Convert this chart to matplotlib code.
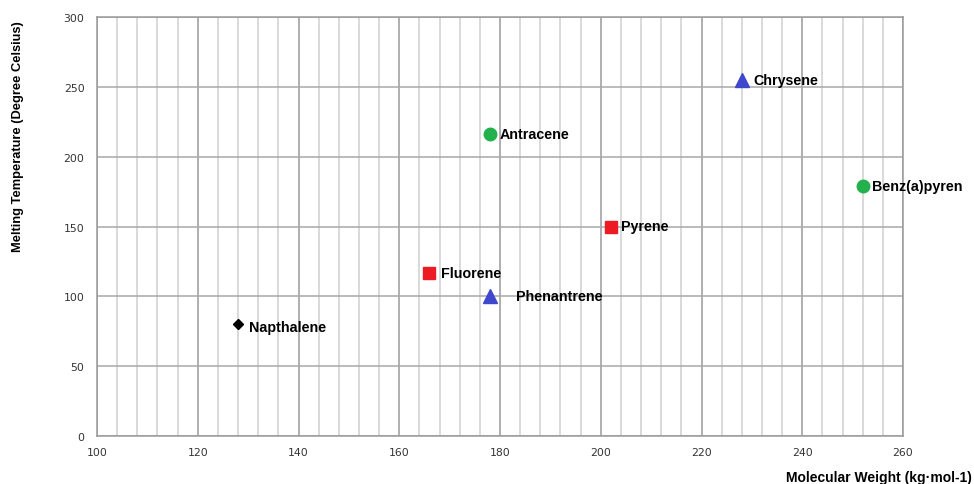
import matplotlib.pyplot as plt
from matplotlib.ticker import MultipleLocator

# compounds: molecular weight vs melting temperature
names = ["Napthalene", "Fluorene", "Phenantrene", "Antracene",
         "Pyrene", "Chrysene", "Benz(a)pyren"]
weights = [128, 166, 178, 178, 202, 228, 252]
melting = [80, 117, 100, 216, 150, 255, 179]
markers = ["D", "s", "^", "o", "s", "^", "o"]
colors = ["#000000", "#ed1c24", "#3f48cc", "#22b14c",
          "#ed1c24", "#3f48cc", "#22b14c"]
sizes = [5, 8, 10, 9, 8, 10, 9]
label_dx = [8, 8, 19, 7, 7, 8, 7]
label_dy = [-2, 0, 0, 0, 0, 0, 0]

fig = plt.figure(figsize=(9.74, 4.85), dpi=100)
ax = fig.add_axes([97 / 974, 1 - 437 / 485, 806 / 974, 419 / 485])

ax.set_xlim(100, 260)
ax.set_ylim(0, 300)
ax.xaxis.set_major_locator(MultipleLocator(20))
ax.xaxis.set_minor_locator(MultipleLocator(4))
ax.yaxis.set_major_locator(MultipleLocator(50))

ax.grid(axis="x", which="major", color="#9a9a9a", linewidth=1.1)
ax.grid(axis="x", which="minor", color="#d0d0d0", linewidth=1.1)
ax.grid(axis="y", which="major", color="#a8a8a8", linewidth=1.1)
ax.set_axisbelow(True)
for sp in ax.spines.values():
    sp.set_color("#9a9a9a")
    sp.set_linewidth(1.1)

ax.tick_params(which="both", length=0, labelsize=7.8, labelcolor="#333333")
ax.tick_params(axis="x", pad=8)
ax.tick_params(axis="y", pad=9)

for i in range(len(names)):
    ax.plot(weights[i], melting[i], marker=markers[i], color=colors[i],
            markersize=sizes[i], linestyle="none")
    ax.annotate(names[i], (weights[i], melting[i]),
                xytext=(label_dx[i], label_dy[i]), textcoords="offset points",
                ha="left", va="center", fontsize=10.3, fontweight="bold",
                family="Liberation Sans")

fig.text(18 / 974, 1 - 137 / 485, "Melting Temperature (Degree Celsius)",
         rotation=90, ha="center", va="center", fontsize=9.3,
         fontweight="bold", family="Liberation Sans")
fig.text(972 / 974, 1 - 478 / 485, "Molecular Weight (kg\u00b7mol-1)",
         ha="right", va="center", fontsize=10, fontweight="bold",
         family="Liberation Sans")

fig.savefig("out.png", dpi=100)
